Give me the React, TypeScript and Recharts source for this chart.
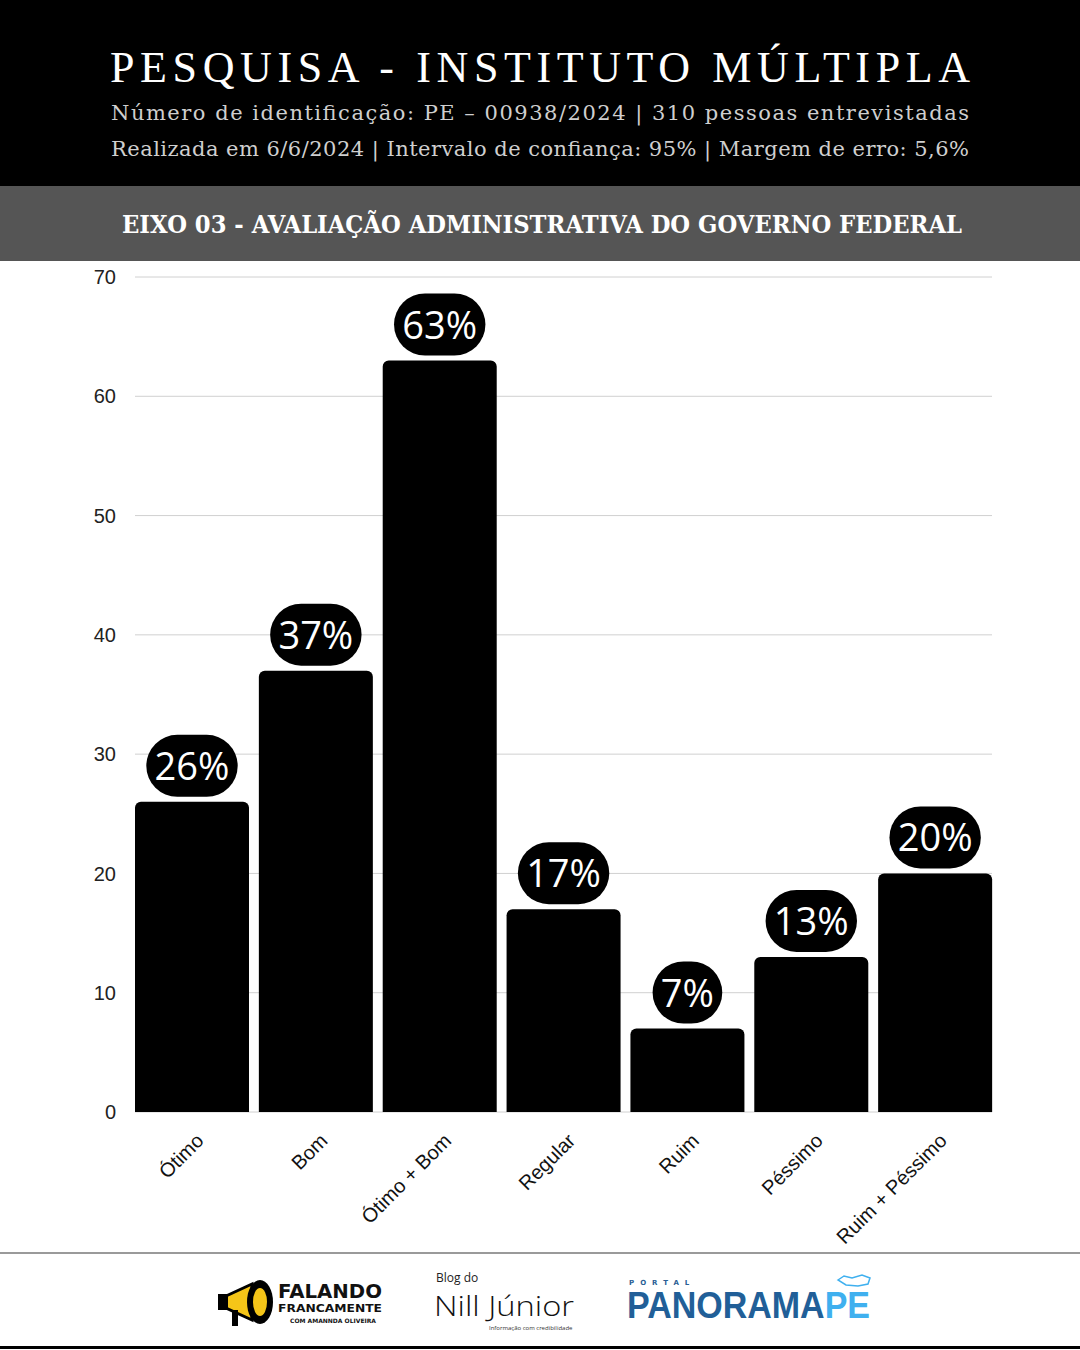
import React from 'react';
import { BarChart, Bar, XAxis, YAxis, CartesianGrid, LabelList } from 'recharts';

const categories = ['Ótimo', 'Bom', 'Ótimo + Bom', 'Regular', 'Ruim', 'Péssimo', 'Ruim + Péssimo'];
const percentages = [26, 37, 63, 17, 7, 13, 20];
const yTicks = [0, 10, 20, 30, 40, 50, 60, 70];

const chartData = categories.map((name, i) => ({ name, value: percentages[i] }));

const PILL_FONT = 38;

const PillLabel = (props: any) => {
  const { x, y, width, value } = props;
  const text = `${value}%`;
  const digits = String(value).length;
  const textW = digits * 0.572 * PILL_FONT + 0.84 * PILL_FONT;
  const w = textW + 16;
  const h = 62;
  const cx = x + width / 2;
  const top = y - 5 - h;
  return (
    <g>
      <rect x={cx - w / 2} y={top} width={w} height={h} rx={h / 2} ry={h / 2} fill="#000" />
      <text
        x={cx}
        y={top + h / 2 + 14}
        textAnchor="middle"
        fill="#fff"
        fontSize={PILL_FONT}
        fontFamily="'Open Sans', 'Noto Sans', sans-serif"
      >
        {text}
      </text>
    </g>
  );
};

const XTick = (props: any) => {
  const { x, y, payload } = props;
  return (
    <g transform={`translate(${x + 13},${y + 22})`}>
      <text
        textAnchor="end"
        transform="rotate(-45)"
        fontSize={20}
        fill="#111"
        fontFamily="'Liberation Sans', Arial, sans-serif"
      >
        {payload.value}
      </text>
    </g>
  );
};

const Header = () => (
  <svg width={1080} height={261} style={{ display: 'block' }}>
    <rect x={0} y={0} width={1080} height={186} fill="#000" />
    <rect x={0} y={186} width={1080} height={75} fill="#555" />
    <text
      x={110}
      y={82}
      textLength={860}
      lengthAdjust="spacing"
      fill="#fff"
      fontSize={44}
      fontFamily="'Liberation Serif', serif"
    >
      PESQUISA - INSTITUTO MÚLTIPLA
    </text>
    <text
      x={111}
      y={120}
      textLength={858}
      lengthAdjust="spacing"
      fill="#cfcfcf"
      fontSize={21}
      fontFamily="'DejaVu Serif', serif"
      fontWeight={300}
    >
      Número de identificação: PE – 00938/2024 | 310 pessoas entrevistadas
    </text>
    <text
      x={111}
      y={156}
      textLength={858}
      lengthAdjust="spacing"
      fill="#cfcfcf"
      fontSize={21}
      fontFamily="'DejaVu Serif', serif"
      fontWeight={300}
    >
      Realizada em 6/6/2024 | Intervalo de confiança: 95% | Margem de erro: 5,6%
    </text>
    <text
      x={122}
      y={233}
      textLength={840}
      lengthAdjust="spacingAndGlyphs"
      fill="#fff"
      fontSize={25}
      fontWeight="bold"
      fontFamily="'DejaVu Serif', serif"
    >
      EIXO 03 - AVALIAÇÃO ADMINISTRATIVA DO GOVERNO FEDERAL
    </text>
  </svg>
);

const Footer = () => (
  <svg width={1080} height={98} style={{ display: 'block' }}>
    <rect x={0} y={0} width={1080} height={2} fill="#9a9a9a" />
    <rect x={0} y={94} width={1080} height={3} fill="#000" />
    {/* megaphone */}
    <g transform="translate(218,22)">
      <polygon points="8,22 34,10 34,46 8,34" fill="#f5c518" stroke="#000" strokeWidth={3} />
      <ellipse cx={42} cy={28} rx={13} ry={22} fill="#000" />
      <ellipse cx={42} cy={28} rx={7} ry={14} fill="#f5c518" />
      <rect x={0} y={20} width={10} height={16} fill="#000" />
      <rect x={14} y={36} width={6} height={16} fill="#000" />
    </g>
    <text x={278} y={46} fontSize={19} fontWeight="bold" fill="#111" fontFamily="'DejaVu Sans', sans-serif" textLength={104} lengthAdjust="spacingAndGlyphs">
      FALANDO
    </text>
    <text x={278} y={60} fontSize={11} fontWeight="bold" fill="#111" fontFamily="'DejaVu Sans', sans-serif" textLength={104} lengthAdjust="spacingAndGlyphs">
      FRANCAMENTE
    </text>
    <text x={290} y={71} fontSize={6} fontWeight="bold" fill="#111" fontFamily="'DejaVu Sans', sans-serif">
      COM AMANNDA OLIVEIRA
    </text>
    <text x={436} y={30} fontSize={12} fill="#222" fontFamily="'Open Sans', sans-serif">
      Blog do
    </text>
    <text x={434} y={64} fontSize={28} fill="#111" fontFamily="'Open Sans', sans-serif" fontWeight={300} textLength={140} lengthAdjust="spacingAndGlyphs">
      Nill Júnior
    </text>
    <text x={489} y={78} fontSize={6} fill="#333" fontFamily="'Open Sans', sans-serif">
      Informação com credibilidade
    </text>
    <text x={629} y={33} fontSize={7} fontWeight="bold" fill="#2a5f95" letterSpacing={6} fontFamily="'DejaVu Sans', sans-serif">
      PORTAL
    </text>
    <text x={627} y={66} fontSize={36} fontWeight="bold" fill="#215f98" fontFamily="'Liberation Sans', Arial, sans-serif" textLength={243} lengthAdjust="spacingAndGlyphs">
      PANORAMA<tspan fill="#3fb0ef">PE</tspan>
    </text>
    <path d="M838,28 l6,-4 l8,2 l10,-3 l8,3 l-2,6 l-10,2 l-12,-1 z" fill="none" stroke="#3fb0ef" strokeWidth={1.5} />
  </svg>
);

export default function App() {
  return (
    <div
      style={{
        position: 'absolute',
        top: 0,
        left: 0,
        width: 1080,
        height: 1350,
        background: '#fff',
        overflow: 'hidden',
      }}
    >
      <Header />
      <BarChart
        width={1080}
        height={991}
        data={chartData}
        margin={{ top: 16, right: 88, left: 0, bottom: 0 }}
        barCategoryGap={5}
      >
        <CartesianGrid vertical={false} stroke="#d0d0d0" strokeWidth={1} />
        <YAxis
          width={135}
          domain={[0, 70]}
          ticks={yTicks}
          axisLine={false}
          tickLine={false}
          tickMargin={13}
          tick={{ fontSize: 20, fill: '#222', fontFamily: "'Liberation Sans', Arial, sans-serif" }}
        />
        <XAxis
          dataKey="name"
          height={140}
          axisLine={false}
          tickLine={false}
          interval={0}
          padding={{ left: -5, right: -5 }}
          tick={<XTick />}
        />
        <Bar dataKey="value" fill="#000" radius={[6, 6, 0, 0]} isAnimationActive={false}>
          <LabelList dataKey="value" content={<PillLabel />} />
        </Bar>
      </BarChart>
      <Footer />
    </div>
  );
}
